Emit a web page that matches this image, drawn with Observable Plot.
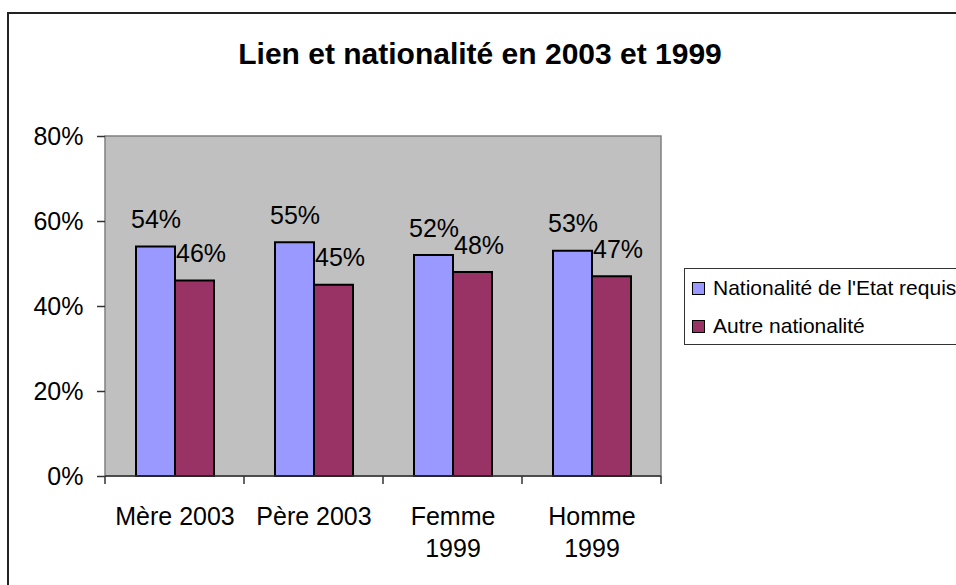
<!DOCTYPE html>
<html>
<head>
<meta charset="utf-8">
<script src="https://cdn.jsdelivr.net/npm/d3@7"></script>
<script src="https://cdn.jsdelivr.net/npm/@observablehq/plot@0.6"></script>
<style>
  html, body { margin: 0; padding: 0; background: #fff; }
  #wrap { position: relative; width: 956px; height: 585px; overflow: hidden; background: #fff;
          font-family: "Liberation Sans", Arial, sans-serif; }
  #outer { position: absolute; left: 7px; top: 12px; width: 1000px; height: 700px;
           border-left: 2px solid #222; border-top: 2px solid #222; }
  #title { position: absolute; left: 0; width: 960px; top: 36px; text-align: center;
           font-weight: bold; font-size: 30px; line-height: 36px; color: #000; }
  #chart { position: absolute; left: 0; top: 0; }
  #legend { position: absolute; left: 684px; top: 268px; width: 300px; height: 75px;
            border: 1.5px solid #333; background: #fff; }
  .li { position: absolute; left: 7px; height: 24px; display: flex; align-items: center;
        font-size: 21px; color: #000; white-space: nowrap; }
  .sw { width: 11px; height: 11px; border: 1.5px solid #000; margin-right: 8px; }
</style>
</head>
<body>
<div id="wrap">
  <div id="outer"></div>
  <div id="chart"></div>
  <div id="title"></div>
  <div id="legend"></div>
</div>
<script>
const titleText = "Lien et nationalité en 2003 et 1999";
const categories = ["Mère 2003", "Père 2003", "Femme 1999", "Homme 1999"];
const categoryLabels = ["Mère 2003", "Père 2003", "Femme\n1999", "Homme\n1999"];
const seriesNames = ["Nationalité de l'Etat requis", "Autre nationalité"];
const seriesColors = ["#9999FF", "#993366"];
const valuesNationaliteEtat = [0.54, 0.55, 0.52, 0.53];
const valuesAutre = [0.46, 0.45, 0.48, 0.47];
const yTicks = [0, 0.2, 0.4, 0.6, 0.8];

const table = [];
categories.forEach((c, i) => {
  table.push({category: c, series: seriesNames[0], value: valuesNationaliteEtat[i]});
  table.push({category: c, series: seriesNames[1], value: valuesAutre[i]});
});

const W = 956, H = 585;
const mL = 104, mR = 294, mT = 136, mB = 109;
const pct = d3.format(".0%");
const font = "Liberation Sans, Arial, sans-serif";

const chart = Plot.plot({
  width: W, height: H,
  marginLeft: mL, marginRight: mR, marginTop: mT, marginBottom: mB,
  style: {fontFamily: font, fontSize: "25px", color: "#000", background: "transparent", overflow: "visible"},
  fx: {domain: categories, padding: 0, axis: null},
  x: {domain: seriesNames, paddingInner: 0, paddingOuter: 0.744, axis: null},
  y: {domain: [0, 0.8], axis: null},
  color: {domain: seriesNames, range: seriesColors},
  marks: [
    Plot.axisY({ticks: yTicks, tickFormat: pct, tickSize: 8, tickPadding: 14,
                fontSize: 25, stroke: "#333", strokeWidth: 1.5, label: null}),
    Plot.axisFx({anchor: "bottom", tickSize: 0, tickPadding: 26, fontSize: 25, lineHeight: 1.28,
                 tickFormat: (d) => categoryLabels[categories.indexOf(d)], label: null}),
    Plot.barY(table, {fx: "category", x: "series", y: "value", fill: "series",
                      stroke: "#000", strokeWidth: 2}),
    Plot.text(table.filter((d) => d.series === seriesNames[0]),
              {fx: "category", x: "series", y: "value", text: (d) => pct(d.value),
               dy: -27, fontSize: 25, fill: "#000", lineAnchor: "middle"}),
    Plot.text(table.filter((d) => d.series === seriesNames[1]),
              {fx: "category", x: "series", y: "value", text: (d) => pct(d.value),
               dx: 6, dy: -27, fontSize: 25, fill: "#000", lineAnchor: "middle"})
  ]
});

// plot-area background and boundary ticks, placed from the chart's own scales
const fx = chart.scale("fx");
const y = chart.scale("y");
const y0 = y.apply(0), yTop = y.apply(0.8);
const bounds = categories.map((c) => fx.apply(c));
bounds.push(fx.apply(categories[categories.length - 1]) + fx.bandwidth);
const svg = d3.select(chart);
svg.insert("rect", ":first-child")
  .attr("x", bounds[0]).attr("y", yTop)
  .attr("width", bounds[bounds.length - 1] - bounds[0]).attr("height", y0 - yTop)
  .attr("fill", "#C0C0C0").attr("stroke", "#808080").attr("stroke-width", 1.5);
const g = svg.append("g").attr("stroke", "#333").attr("stroke-width", 1.5);
bounds.forEach((bx) => {
  g.append("line").attr("x1", bx).attr("x2", bx).attr("y1", y0).attr("y2", y0 + 8);
});
g.append("line").attr("x1", bounds[0]).attr("x2", bounds[bounds.length - 1])
  .attr("y1", y0).attr("y2", y0);

document.getElementById("chart").appendChild(chart);
document.getElementById("title").textContent = titleText;

const legend = document.getElementById("legend");
seriesNames.forEach((name, i) => {
  const item = document.createElement("div");
  item.className = "li";
  item.style.top = (7 + i * 38) + "px";
  const sw = document.createElement("div");
  sw.className = "sw";
  sw.style.background = seriesColors[i];
  const t = document.createElement("span");
  t.textContent = name;
  item.appendChild(sw);
  item.appendChild(t);
  legend.appendChild(item);
});
</script>
</body>
</html>
